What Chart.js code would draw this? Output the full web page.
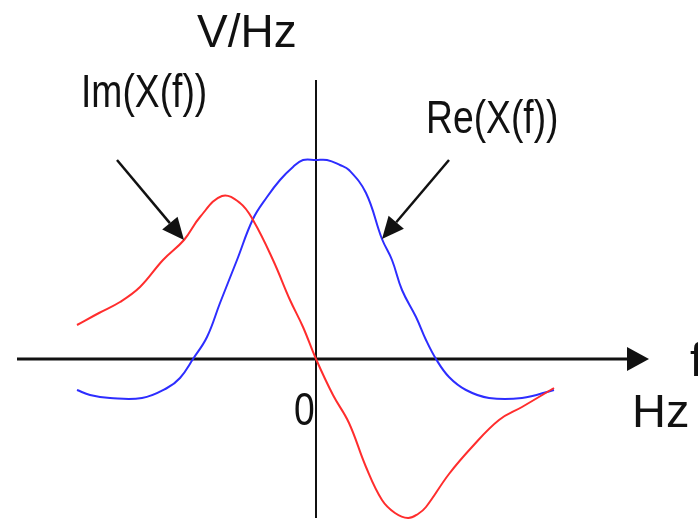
<!DOCTYPE html>
<html>
<head>
<meta charset="utf-8">
<title>X(f)</title>
<script src="https://cdn.jsdelivr.net/npm/chart.js@4.4.1/dist/chart.umd.min.js"></script>
<style>
    html, body { margin: 0; padding: 0; background: #fff; }
    #box { position: relative; width: 698px; height: 521px; }
</style>
</head>
<body>
<div id="box"><canvas id="espectro"></canvas></div>
<script>
// frequency samples (arbitrary units, 0 at the origin)
const im_f = [-2.39, -2.17, -1.96, -1.76, -1.53, -1.32, -1.16, -0.94, -0.76, -0.63, -0.43, -0.26, -0.13, 0, 0.17, 0.33, 0.50, 0.66, 0.79, 0.92, 1.02, 1.10, 1.33, 1.56, 1.83, 2.06, 2.38];
const im_val = [0.34, 0.46, 0.57, 0.72, 0.99, 1.19, 1.42, 1.63, 1.56, 1.39, 0.99, 0.59, 0.32, 0, -0.36, -0.64, -1.08, -1.41, -1.54, -1.59, -1.55, -1.48, -1.15, -0.88, -0.61, -0.48, -0.29];

const re_f = [-2.39, -2.26, -2.06, -1.74, -1.49, -1.36, -1.23, -1.09, -0.96, -0.79, -0.63, -0.49, -0.36, -0.23, -0.13, 0, 0.11, 0.24, 0.33, 0.50, 0.66, 0.76, 0.86, 1.00, 1.10, 1.20, 1.33, 1.50, 1.73, 2.06, 2.38];
const re_val = [-0.31, -0.36, -0.39, -0.39, -0.29, -0.19, 0, 0.22, 0.56, 0.99, 1.40, 1.62, 1.79, 1.92, 1.99, 1.99, 1.99, 1.94, 1.89, 1.66, 1.20, 0.99, 0.69, 0.42, 0.19, 0, -0.18, -0.31, -0.39, -0.39, -0.31];

const labels = {
    im: "Im(X(f))",
    re: "Re(X(f))",
    y_unit: "V/Hz",
    x_unit: "Hz",
    x_name: "f",
    origin: "0"
};

const colors = {
    im: "rgb(255, 45, 45)",
    re: "rgb(45, 45, 255)",
    ink: "#111"
};

function puntos(xs, ys)
{
    return xs.map(function(x, i){
        return {x: x, y: ys[i]};
    });
}

function flecha(ctx, x1, y1, x2, y2, len, half)
{
    const ang = Math.atan2(y2 - y1, x2 - x1);
    const bx = x2 - len * Math.cos(ang);
    const by = y2 - len * Math.sin(ang);

    ctx.beginPath();
    ctx.moveTo(x1, y1);
    ctx.lineTo(bx, by);
    ctx.stroke();

    ctx.beginPath();
    ctx.moveTo(x2, y2);
    ctx.lineTo(bx + half * Math.sin(ang), by - half * Math.cos(ang));
    ctx.lineTo(bx - half * Math.sin(ang), by + half * Math.cos(ang));
    ctx.closePath();
    ctx.fill();
}

function texto(ctx, str, x, y, size, sx)
{
    ctx.save();
    ctx.translate(x, y);
    ctx.scale(sx, 1);
    ctx.font = size + "px 'Liberation Sans', Arial, sans-serif";
    ctx.textAlign = "left";
    ctx.textBaseline = "alphabetic";
    ctx.fillText(str, 0, 0);
    ctx.restore();
}

// axes with arrow, units and the two callouts
const ejes = {
    id: "ejes",
    beforeDatasetsDraw: function(chart){
        const ctx = chart.ctx;
        const sx = chart.scales.x;
        const sy = chart.scales.y;
        const x0 = sx.getPixelForValue(0);
        const y0 = sy.getPixelForValue(0);

        ctx.save();
        ctx.strokeStyle = colors.ink;
        ctx.fillStyle = colors.ink;

        // horizontal axis
        ctx.lineWidth = 3;
        flecha(ctx, sx.getPixelForValue(-2.99), y0, sx.getPixelForValue(3.33), y0, 22, 12);

        // vertical axis
        ctx.lineWidth = 2;
        ctx.beginPath();
        ctx.moveTo(x0, sy.getPixelForValue(2.79));
        ctx.lineTo(x0, sy.getPixelForValue(-1.59));
        ctx.stroke();
        ctx.restore();
    },
    afterDatasetsDraw: function(chart){
        const ctx = chart.ctx;
        const sx = chart.scales.x;
        const sy = chart.scales.y;
        const x0 = sx.getPixelForValue(0);
        const y0 = sy.getPixelForValue(0);

        ctx.save();
        ctx.strokeStyle = colors.ink;
        ctx.fillStyle = colors.ink;
        ctx.lineWidth = 2.5;

        // callout arrows
        flecha(ctx, x0 - 199, y0 - 199, sx.getPixelForValue(-1.32), sy.getPixelForValue(1.19), 22, 10);
        flecha(ctx, x0 + 133, y0 - 199, sx.getPixelForValue(0.66), sy.getPixelForValue(1.20), 22, 10);

        texto(ctx, labels.y_unit, x0 - 119, 47, 46, 1);
        texto(ctx, labels.im, x0 - 235, 107, 46, 0.81);
        texto(ctx, labels.re, x0 + 110, 133, 46, 0.81);
        texto(ctx, labels.origin, x0 - 22, y0 + 66, 46, 0.81);
        texto(ctx, labels.x_unit, x0 + 316, y0 + 68, 47, 1);
        texto(ctx, labels.x_name, x0 + 374, y0 + 17, 46, 1);
        ctx.restore();
    }
};

function generate_dataset(key, xs, ys)
{
    return {
        label: labels[key],
        data: puntos(xs, ys),
        borderColor: colors[key],
        borderWidth: 2,
        pointRadius: 0,
        fill: false,
        showLine: true,
        tension: 0.4
    };
}

const ctx = document.getElementById("espectro");

const chart = new Chart(ctx, {
    type: "scatter",
    data: {
        datasets: [
            generate_dataset("im", im_f, im_val),
            generate_dataset("re", re_f, re_val)
        ]
    },
    options: {
        responsive: true,
        maintainAspectRatio: false,
        animation: false,
        layout: { padding: 0 },
        scales: {
            x: { type: "linear", min: -3.16, max: 3.82, display: false },
            y: { type: "linear", min: -1.62, max: 3.59, display: false }
        },
        plugins: {
            legend: { display: false },
            tooltip: { enabled: false }
        }
    },
    plugins: [ejes]
});
</script>
</body>
</html>
